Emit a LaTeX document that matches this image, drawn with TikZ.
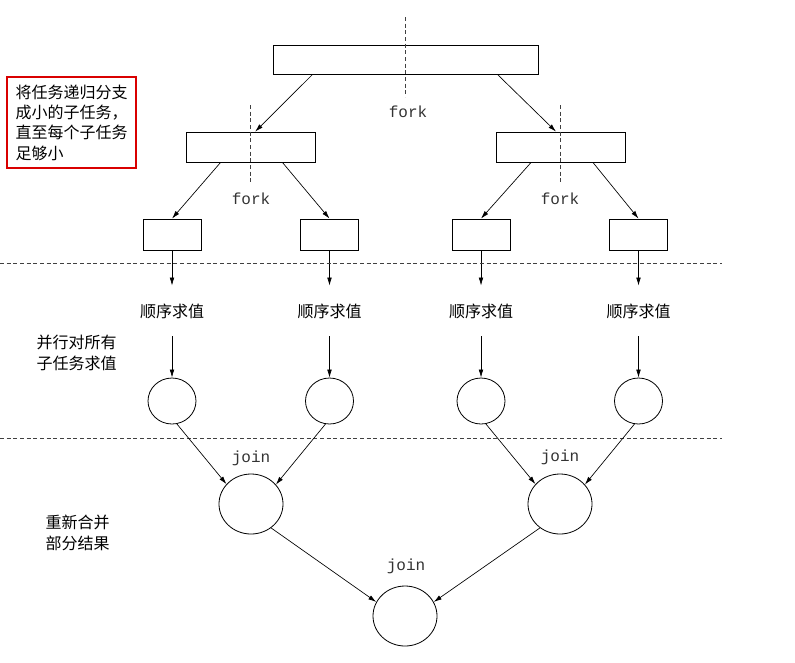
\documentclass[tikz,border=0pt]{standalone}
\usepackage{fontspec}
\setmonofont{Liberation Mono}
\newfontfamily\cjk{Noto Sans CJK SC}
\usetikzlibrary{arrows.meta,shapes.geometric}

\begin{document}
\begin{tikzpicture}[x=0.75pt,y=-0.75pt,line width=0.6pt,
  task/.style={draw,inner sep=0pt},
  sub/.style={draw,ellipse,inner sep=0pt,minimum width=36pt,minimum height=34.5pt},
  joint/.style={draw,ellipse,inner sep=0pt,minimum width=48pt,minimum height=45pt},
  lab/.style={font=\fontsize{12}{14}\selectfont\ttfamily,text=black!80},
  zh/.style={font=\fontsize{12}{15.3}\selectfont\cjk,align=left,inner sep=0pt},
  seq/.style={font=\fontsize{12}{14}\selectfont\cjk,inner sep=0pt,minimum height=37.5pt},
  sep/.style={black!75,dash pattern=on 3pt off 2pt},
  arr/.style={-{Latex[length=6pt,width=3.5pt]},line width=0.5pt}]
\useasboundingbox (0,0) rectangle (795,662);

% split
\node[task,minimum width=198.75pt,minimum height=21.75pt] (top) at (405.5,59.5) {};
\node[task,minimum width=96.75pt,minimum height=22.5pt] (la) at (250.5,147) {};
\node[task,minimum width=96.75pt,minimum height=22.5pt] (lb) at (561,147) {};
\draw[sep] (405,17) -- (405,97);
\draw[sep] (250,105) -- (250,183);
\draw[sep] (560,105) -- (560,183);
\node[lab] (f0) at (408,112) {fork};
\node[lab] (f1) at (251,199) {fork};
\node[lab] (f2) at (560,199) {fork};
\draw[arr] ([xshift=30pt]top.south west) -- ([xshift=3.5pt]la.north);
\draw[arr] ([xshift=-30.75pt]top.south east) -- ([xshift=-3.75pt]lb.north);

% leaves, sequential work, results
\foreach \i/\x in {1/172,2/329.5,3/481,4/638.5}{
  \node[task,minimum width=43.5pt,minimum height=23.25pt] (b\i) at (\x,234.5) {};
  \node[seq] (v\i) at (\x,311) {顺序求值};
  \node[sub] (c\i) at (\x,401) {};
  \draw[arr] (b\i) -- (v\i);
  \draw[arr] (v\i) -- (c\i);
}
\draw[arr] ([xshift=26.25pt]la.south west) -- (b1.north);
\draw[arr] ([xshift=-24.75pt]la.south east) -- (b2.north);
\draw[arr] ([xshift=26.25pt]lb.south west) -- (b3.north);
\draw[arr] ([xshift=-24.75pt]lb.south east) -- (b4.north);

\draw[sep] (0,263) -- (722,263);
\draw[sep] (0,438) -- (722,438);

% merge
\node[joint] (j1) at (251,504) {};
\node[joint] (j2) at (560,504) {};
\node[joint] (j0) at (405,616) {};
\node[lab] (k1) at (251,458) {join};
\node[lab] (k2) at (560,457) {join};
\node[lab] (k0) at (406,566) {join};
\draw[arr] (c1.-78) -- (j1.141);
\draw[arr] (c2.-100) -- (j1.38);
\draw[arr] (c3.-78) -- (j2.141);
\draw[arr] (c4.-100) -- (j2.38);
\draw[arr] (j1.-50) -- (j0.154);
\draw[arr] (j2.-130) -- (j0.26);

% side notes
\node[zh,draw=red!85!black,line width=1.5pt,minimum width=96.75pt,minimum height=68.25pt] (n1) at (71.5,122.5)
  {将任务递归分支\\成小的子任务，\\直至每个子任务\\足够小};
\node[zh] (n2) at (76.5,353) {并行对所有\\子任务求值};
\node[zh] (n3) at (77.5,533) {重新合并\\部分结果};
\end{tikzpicture}
\end{document}
